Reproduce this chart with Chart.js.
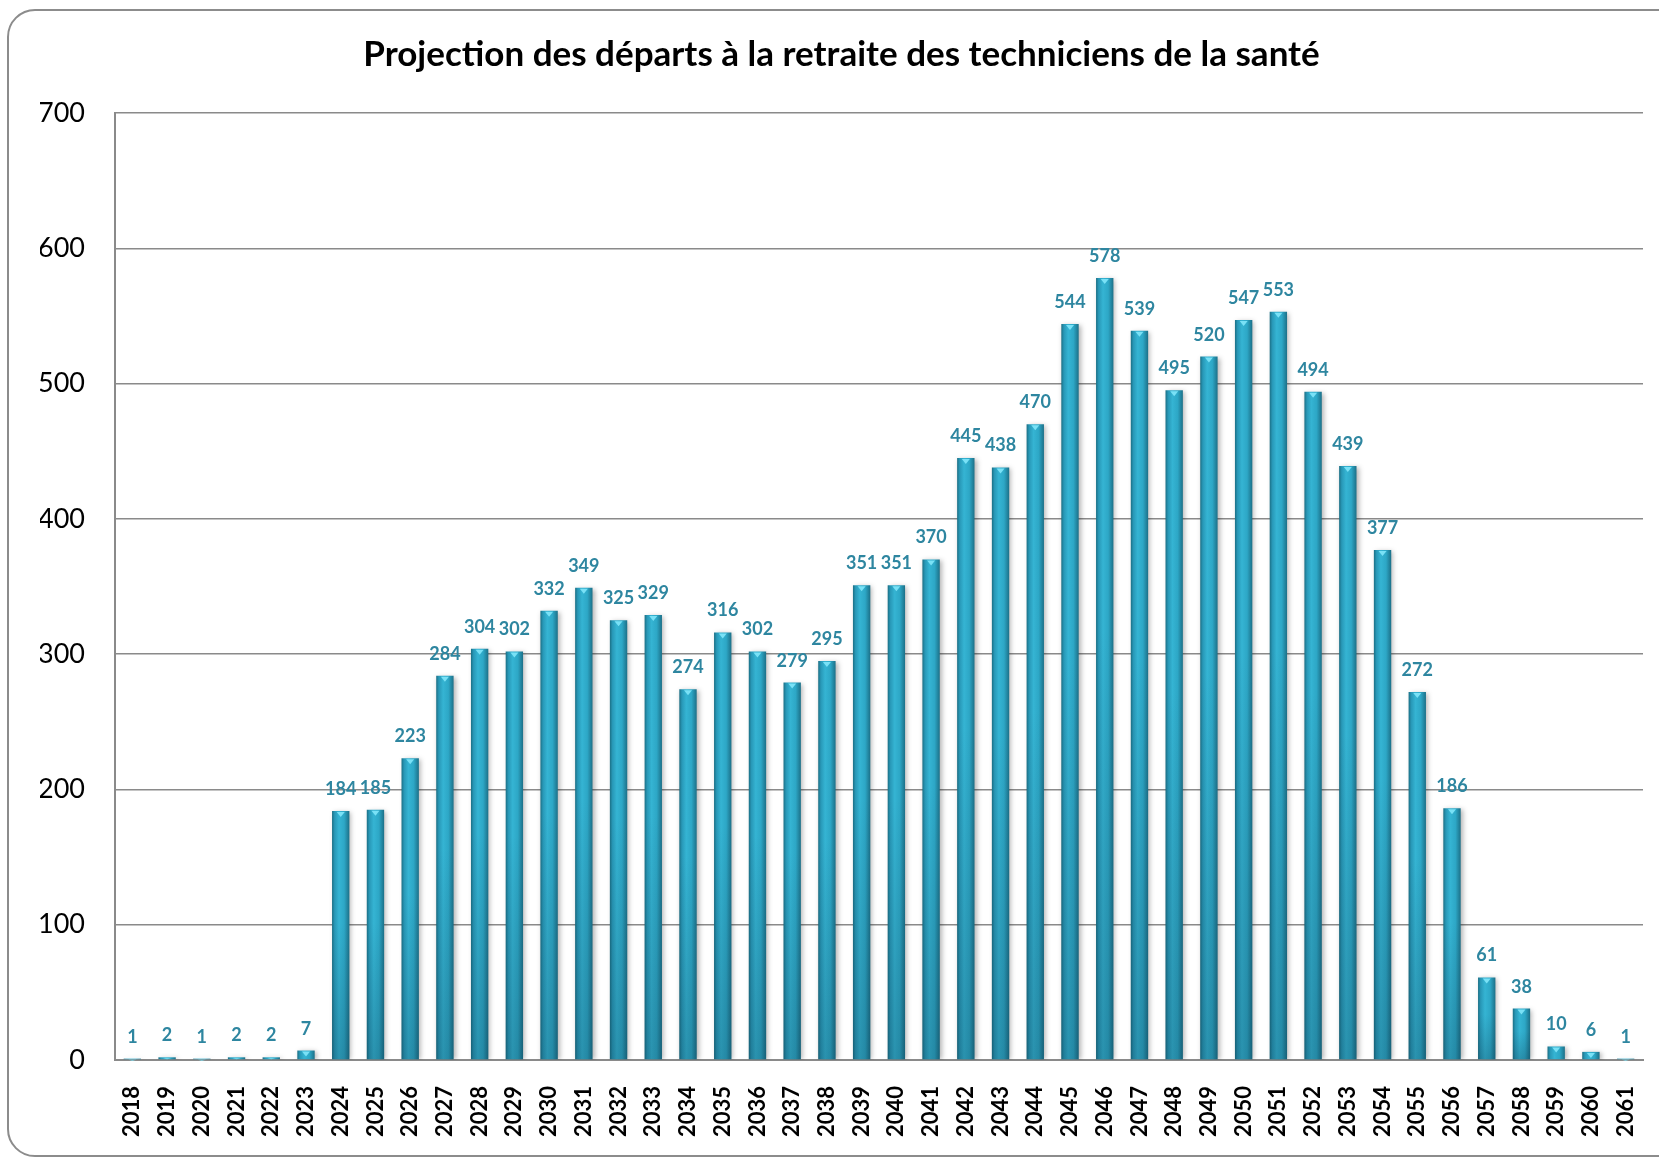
<!DOCTYPE html>
<html>
<head>
<meta charset="utf-8">
<script src="https://cdn.jsdelivr.net/npm/chart.js@4.4.1/dist/chart.umd.min.js"></script>
<style>
  html, body { margin: 0; padding: 0; background: #fff; }
  #wrap { position: relative; width: 1659px; height: 1163px; overflow: hidden; }
  #frame { position: absolute; left: 7px; top: 9px; width: 1700px; height: 1148px;
           border: 2px solid #8c8c8c; border-radius: 28px; box-sizing: border-box; }
  canvas { position: absolute; left: 0; top: 0; }
</style>
</head>
<body>
<div id="wrap">
  <div id="frame"></div>
  <canvas id="c" width="1659" height="1163"></canvas>
</div>
<script>
const TITLE = "Projection des départs à la retraite des techniciens de la santé";
const years = ["2018","2019","2020","2021","2022","2023","2024","2025","2026","2027",
  "2028","2029","2030","2031","2032","2033","2034","2035","2036","2037",
  "2038","2039","2040","2041","2042","2043","2044","2045","2046","2047",
  "2048","2049","2050","2051","2052","2053","2054","2055","2056","2057",
  "2058","2059","2060","2061"];
const departures = [1,2,1,2,2,7,184,185,223,284,
  304,302,332,349,325,329,274,316,302,279,
  295,351,351,370,445,438,470,544,578,539,
  495,520,547,553,494,439,377,272,186,61,
  38,10,6,1];
const yMin = 0, yMax = 700, yStep = 100;

const barStyle = {
  id: 'barStyle',
  beforeDatasetsDraw(chart) {
    const ctx = chart.ctx;
    ctx.save();
    ctx.shadowColor = 'rgba(0,0,0,0.3)';
    ctx.shadowBlur = 5;
    ctx.shadowOffsetX = 2;
    ctx.shadowOffsetY = 1;
    const meta = chart.getDatasetMeta(0);
    meta.data.forEach(el => {
      const p = el.getProps(['x', 'width'], true);
      const g = ctx.createLinearGradient(p.x - p.width / 2, 0, p.x + p.width / 2, 0);
      g.addColorStop(0, '#1b6f85');
      g.addColorStop(0.15, '#2898b7');
      g.addColorStop(0.4, '#35b4d3');
      g.addColorStop(0.7, '#2da7c6');
      g.addColorStop(1, '#1c7088');
      el.options = Object.assign({}, el.options, { backgroundColor: g });
    });
  },
  afterDatasetsDraw(chart) {
    const ctx = chart.ctx;
    ctx.restore();
    const meta = chart.getDatasetMeta(0);
    ctx.save();
    meta.data.forEach((el, i) => {
      const p = el.getProps(['x', 'y', 'base', 'width'], true);
      const left = p.x - p.width / 2;
      const hgt = p.base - p.y;
      if (hgt > 20) {
        const vg = ctx.createLinearGradient(0, p.y, 0, p.base);
        vg.addColorStop(0, 'rgba(10,50,70,0)');
        vg.addColorStop(0.45, 'rgba(10,50,70,0)');
        vg.addColorStop(1, 'rgba(10,50,70,0.26)');
        ctx.fillStyle = vg;
        ctx.fillRect(left, p.y, p.width, hgt);
      }
      const h = Math.min(5, Math.max(1, hgt - 1));
      ctx.fillStyle = 'rgba(125,228,248,0.95)';
      ctx.beginPath();
      ctx.moveTo(p.x - 4, p.y + 1);
      ctx.lineTo(p.x + 4, p.y + 1);
      ctx.lineTo(p.x, p.y + 1 + h);
      ctx.closePath();
      ctx.fill();
      ctx.fillStyle = '#2e86a0';
      ctx.font = 'bold 18px Lato';
      ctx.textAlign = 'center';
      ctx.textBaseline = 'alphabetic';
      ctx.fillText(String(departures[i]), p.x, p.y - 16);
    });
    ctx.restore();
  }
};

new Chart(document.getElementById('c'), {
  type: 'bar',
  data: {
    labels: years,
    datasets: [{
      data: departures,
      backgroundColor: '#2ea6c5',
      borderWidth: 0,
      categoryPercentage: 1.0,
      barPercentage: 0.5
    }]
  },
  options: {
    responsive: false,
    animation: false,
    devicePixelRatio: 1,
    layout: { padding: { left: 40, right: 16, top: 0, bottom: 0 } },
    plugins: {
      legend: { display: false },
      tooltip: { enabled: false },
      title: {
        display: true,
        text: TITLE,
        color: '#000',
        font: { family: 'Lato', size: 35, weight: 'bold' },
        padding: { top: 34, bottom: 37 }
      }
    },
    scales: {
      x: {
        grid: { display: false, drawTicks: false },
        border: { display: true, color: '#8a8a8a', width: 2 },
        ticks: {
          color: '#000',
          font: { family: 'Lato', size: 22, weight: 'bold' },
          minRotation: 90, maxRotation: 90,
          autoSkip: false,
          padding: 26
        },
        afterFit(scale) { scale.height = 103; scale.paddingLeft = 0; scale.paddingRight = 0; }
      },
      y: {
        min: yMin, max: yMax,
        grid: { color: '#8a8a8a', lineWidth: 1.5, drawTicks: false },
        border: { display: true, color: '#8a8a8a', width: 2 },
        ticks: {
          stepSize: yStep,
          color: '#000',
          font: { family: 'Lato', size: 27 },
          padding: 30
        },
        afterFit(scale) { scale.width = 75; }
      }
    }
  },
  plugins: [barStyle]
});
</script>
</body>
</html>
